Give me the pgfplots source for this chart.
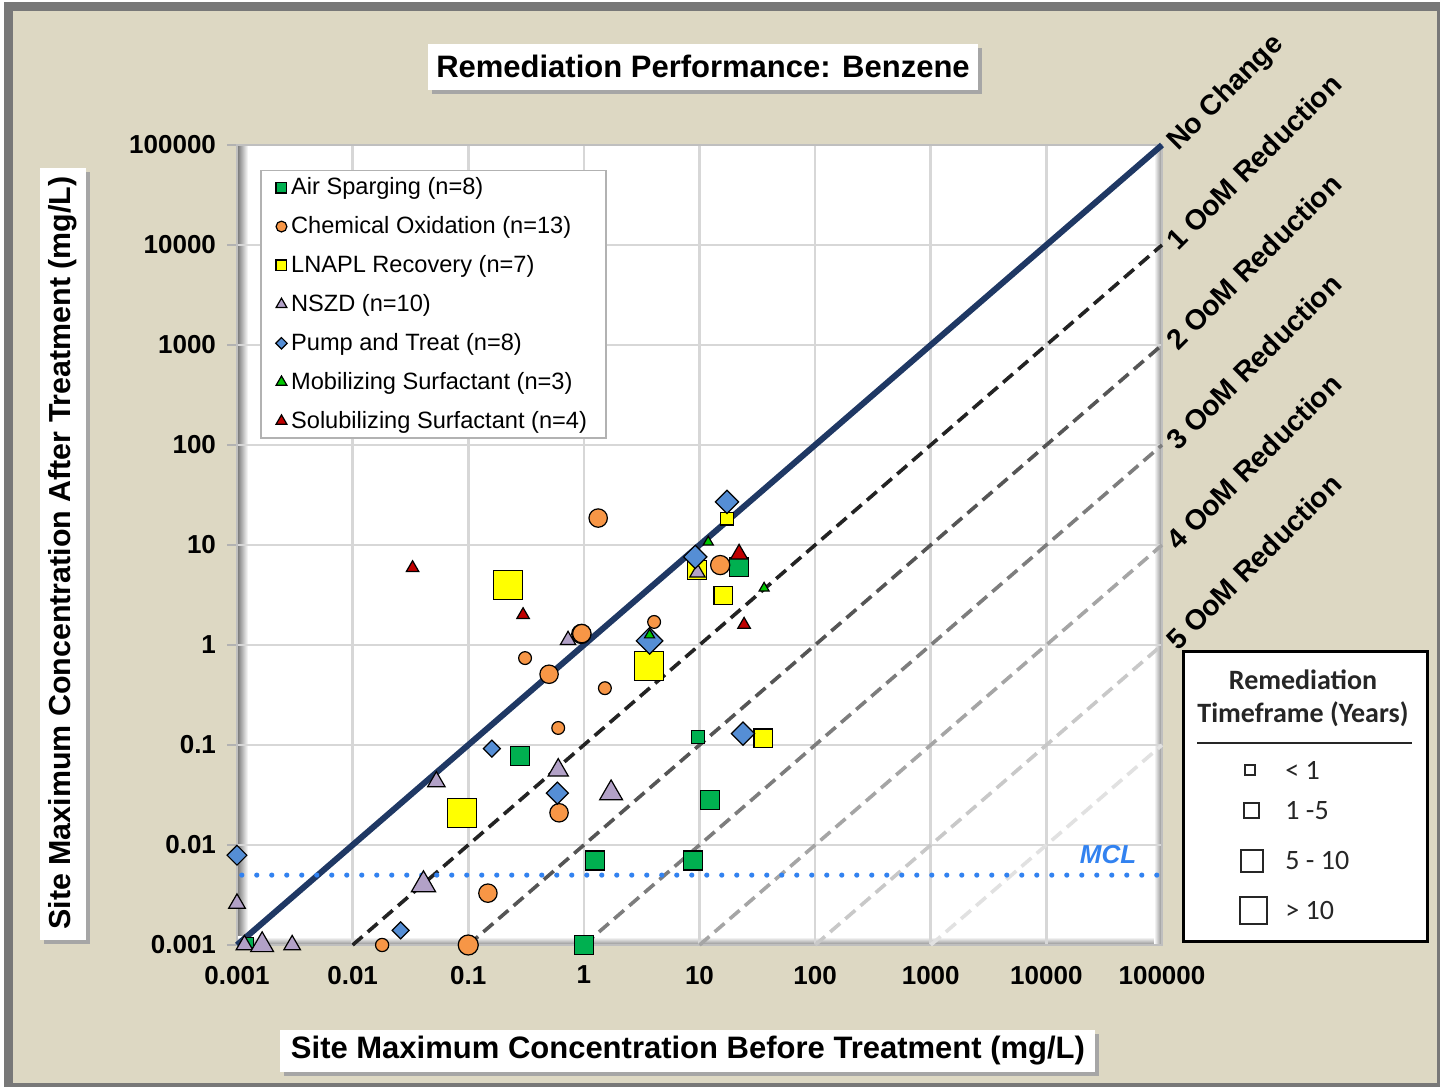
\documentclass[border=0pt]{standalone}
\usepackage{pgfplots}
\pgfplotsset{compat=1.18}
\usepackage{pgfplotstable}
\usepackage{fontspec}
\setmainfont{Liberation Sans}
\newfontfamily\carlito{Carlito}
\definecolor{bgtan}{RGB}{221,216,195}
\definecolor{framegray}{RGB}{120,120,120}
\definecolor{gridgray}{RGB}{215,215,215}
\definecolor{asgreen}{RGB}{0,176,80}
\definecolor{coorange}{RGB}{247,150,70}
\definecolor{lnyellow}{RGB}{255,255,0}
\definecolor{nspurple}{RGB}{178,161,199}
\definecolor{ptblue}{RGB}{85,142,213}
\definecolor{mogreen}{RGB}{0,200,0}
\definecolor{sored}{RGB}{192,0,0}
\definecolor{navyline}{RGB}{31,56,100}
\definecolor{mclblue}{RGB}{50,130,240}

\pgfplotsset{
 sizedpts/.style={only marks, scatter, forget plot, mark options={line width=0.6pt},
   scatter/use mapped color={draw=black, fill=#1},
   visualization depends on={\thisrow{ms}\as\perpointmarksize},
   scatter/@pre marker code/.append style={/tikz/mark size=\perpointmarksize}},
 oom/.style={line width=1.8pt, dash pattern=on 6.5pt off 3.5pt, forget plot},
}

% Air Sparging
\pgfplotstableread{
x y ms
0.28 0.078 4.75
9.7 0.12 3.25
22 6.0 4.75
12.4 0.028 4.75
1.25 0.007 4.75
8.8 0.007 4.75
1.0 0.001 4.75
0.00125 0.00106 2.5
}\tAS
% Chemical Oxidation
\pgfplotstableread{
x y ms
1.33 18.6 4.6
15.1 6.3 4.8
4.05 1.7 3.2
0.95 1.29 4.8
0.31 0.74 3.2
0.5 0.51 4.6
1.52 0.37 3.2
0.6 0.148 3.2
0.61 0.021 4.6
0.148 0.0033 4.6
0.1 0.001 5.0
0.018 0.001 3.3
0.96 1.3 4.6
}\tCO
% LNAPL Recovery
\pgfplotstableread{
x y ms
9.5 5.6 4.8
0.22 4.0 7.3
3.66 0.62 7.3
0.088 0.021 7.3
17.3 18.4 3.2
16 3.1 4.5
35.5 0.117 4.6
}\tLN
% NSZD
\pgfplotstableread{
x y ms
0.73 1.12 4.4
0.6 0.056 5.8
1.72 0.033 6.6
0.053 0.043 5.0
0.041 0.0040 7.0
0.001 0.0026 4.8
0.00116 0.001 4.8
0.00165 0.001 6.6
0.003 0.001 4.8
9.6 5.3 4.4
}\tNS
% Pump and Treat
\pgfplotstableread{
x y ms
17.3 27 4.1
9.2 7.6 4.1
3.7 1.1 4.7
0.16 0.092 3.0
0.59 0.033 3.9
23.8 0.13 4.1
0.001 0.0079 3.5
0.026 0.0014 3.0
}\tPT
% Mobilizing Surfactant
\pgfplotstableread{
x y ms
11.9 10.7 2.9
36.2 3.7 2.9
3.7 1.26 2.9
}\tMO
% Solubilizing Surfactant
\pgfplotstableread{
x y ms
0.033 5.9 3.6
0.298 2.0 3.6
22 8.1 4.9
24.3 1.6 3.6
}\tSO

\begin{document}
\begin{tikzpicture}
\useasboundingbox (0,0) rectangle (720pt,543.5pt);
% background and frame
\fill[white] (0,0) rectangle (720pt,543.5pt);
\fill[framegray] (2pt,0pt) rectangle (720pt,542.5pt);
\fill[bgtan] (6.5pt,2pt) rectangle (718.5pt,538pt);
% plot area
\fill[white] (118.5pt,71pt) rectangle (581pt,471pt);
\shade[left color=black!55, right color=white] (118.5pt,71pt) rectangle (124pt,471pt);
\shade[bottom color=black!45, top color=white] (118.5pt,71pt) rectangle (581pt,75pt);
\shade[left color=white, right color=black!45] (577pt,71pt) rectangle (581pt,471pt);

% title box
\fill[black!35] (216pt,496.5pt) rectangle (491pt,519.5pt);
\fill[white] (214pt,498.5pt) rectangle (489pt,521.5pt);
\node[inner sep=0pt, font=\fontsize{15.5}{18}\selectfont\bfseries] at (351.5pt,510.5pt) {Remediation Performance: Benzene};
% x label box
\fill[black!35] (142pt,5.5pt) rectangle (549.5pt,26.5pt);
\fill[white] (140pt,7.5pt) rectangle (547.5pt,28.5pt);
\node[inner sep=0pt, font=\fontsize{15.5}{18}\selectfont\bfseries] at (344pt,18pt) {Site Maximum Concentration Before Treatment (mg/L)};
% y label box
\fill[black!35] (22pt,71.5pt) rectangle (45pt,457.5pt);
\fill[white] (20pt,73.5pt) rectangle (43pt,459.5pt);
\node[inner sep=0pt, rotate=90, font=\fontsize{15.2}{18}\selectfont\bfseries] at (31.5pt,267pt) {Site Maximum Concentration After Treatment (mg/L)};

\begin{axis}[
  at={(118.5pt,71pt)}, anchor=south west,
  scale only axis, width=462.5pt, height=400pt,
  xmode=log, ymode=log,
  xmin=0.001, xmax=100000, ymin=0.001, ymax=100000,
  xtick={0.001,0.01,0.1,1,10,100,1000,10000,100000},
  ytick={0.001,0.01,0.1,1,10,100,1000,10000,100000},
  xticklabels={0.001,0.01,0.1,1,10,100,1000,10000,100000},
  yticklabels={0.001,0.01,0.1,1,10,100,1000,10000,100000},
  xminorticks=false, yminorticks=false,
  grid=major, major grid style={draw=gridgray, line width=1.3pt},
  axis line style={draw=gray!50, line width=0.8pt},
  xtick style={draw=none}, ytick style={draw=gray!60, line width=1pt},
  tick align=outside, major tick length=5pt, tick pos=left,
  ticklabel style={font=\fontsize{13}{15}\selectfont\bfseries},
  xticklabel style={yshift=-2pt},
  yticklabel style={xshift=-2pt},
  clip=false,
  legend cell align=left,
  legend style={at={(0.0249,0.969)}, anchor=north west,
    draw=gray!60, line width=0.8pt, fill=white,
    font=\fontsize{11.8}{13}\selectfont,
    inner xsep=7.5pt, inner ysep=1.5pt, row sep=5.4pt,
    nodes={inner sep=2pt}, cells={anchor=west}},
  legend image code/.code={\draw[#1] plot coordinates {(0pt,0pt)};},
]
\addlegendimage{only marks, mark=square*, mark size=2.7pt, mark options={fill=asgreen, draw=black, line width=0.6pt}}
\addlegendentry{Air Sparging (n=8)}
\addlegendimage{only marks, mark=*, mark size=2.7pt, mark options={fill=coorange, draw=black, line width=0.6pt}}
\addlegendentry{Chemical Oxidation (n=13)}
\addlegendimage{only marks, mark=square*, mark size=2.7pt, mark options={fill=lnyellow, draw=black, line width=0.6pt}}
\addlegendentry{LNAPL Recovery (n=7)}
\addlegendimage{only marks, mark=triangle*, mark size=3.1pt, mark options={fill=nspurple, draw=black, line width=0.6pt}}
\addlegendentry{NSZD (n=10)}
\addlegendimage{only marks, mark=square*, mark size=2pt, mark options={fill=ptblue, draw=black, line width=0.6pt, rotate=45}}
\addlegendentry{Pump and Treat (n=8)}
\addlegendimage{only marks, mark=triangle*, mark size=3.1pt, mark options={fill=mogreen, draw=black, line width=0.6pt}}
\addlegendentry{Mobilizing Surfactant (n=3)}
\addlegendimage{only marks, mark=triangle*, mark size=3.1pt, mark options={fill=sored, draw=black, line width=0.6pt}}
\addlegendentry{Solubilizing Surfactant (n=4)}

% reference lines
\addplot[oom, draw={rgb,255:red,225;green,225;blue,225}] coordinates {(1000,0.001) (100000,0.1)};
\addplot[oom, draw={rgb,255:red,200;green,200;blue,200}] coordinates {(100,0.001) (100000,1)};
\addplot[oom, draw={rgb,255:red,165;green,165;blue,165}] coordinates {(10,0.001) (100000,10)};
\addplot[oom, draw={rgb,255:red,125;green,125;blue,125}] coordinates {(1,0.001) (100000,100)};
\addplot[oom, draw={rgb,255:red,85;green,85;blue,85}] coordinates {(0.1,0.001) (100000,1000)};
\addplot[oom, draw={rgb,255:red,35;green,35;blue,35}] coordinates {(0.01,0.001) (100000,10000)};
\addplot[navyline, line width=3pt, forget plot] coordinates {(0.001,0.001) (100000,100000)};
\addplot[mclblue, line width=2.6pt, line cap=round, dash pattern=on 0pt off 7.5pt, forget plot] coordinates {(0.0011,0.005) (100000,0.005)};

% data
\addplot[sizedpts=asgreen, mark=square*] table[x=x,y=y] {\tAS};
\addplot[sizedpts=coorange, mark=*] table[x=x,y=y] {\tCO};
\addplot[sizedpts=lnyellow, mark=square*] table[x=x,y=y] {\tLN};
\addplot[sizedpts=nspurple, mark=triangle*] table[x=x,y=y] {\tNS};
\addplot[sizedpts=ptblue, mark=square*, mark options={line width=0.6pt, rotate=45}] table[x=x,y=y] {\tPT};
\addplot[sizedpts=mogreen, mark=triangle*] table[x=x,y=y] {\tMO};
\addplot[sizedpts=sored, mark=triangle*] table[x=x,y=y] {\tSO};
\end{axis}

% diagonal labels
\begin{scope}[every node/.style={rotate=45, anchor=base west, inner sep=0pt, font=\fontsize{14.2}{16}\selectfont\bfseries}]
\node at (589pt,467.5pt) {No Change};
\node at (589pt,417.5pt) {1 OoM Reduction};
\node at (589pt,367.5pt) {2 OoM Reduction};
\node at (589pt,317.5pt) {3 OoM Reduction};
\node at (589pt,267.5pt) {4 OoM Reduction};
\node at (589pt,217.5pt) {5 OoM Reduction};
\end{scope}

% MCL label
\node[inner sep=0pt, text=mclblue, font=\fontsize{13}{15}\selectfont\bfseries\itshape] at (554pt,116pt) {MCL};

% timeframe legend
\draw[line width=1.5pt, fill=white] (591.5pt,72.5pt) rectangle (713.5pt,217.5pt);
\node[inner sep=0pt, font=\carlito\fontsize{14}{16}\selectfont\bfseries, text=black!85] at (651.5pt,203.5pt) {Remediation};
\node[inner sep=0pt, font=\carlito\fontsize{14}{16}\selectfont\bfseries, text=black!85] at (651.5pt,186.5pt) {Timeframe (Years)};
\draw[line width=1pt, black!85] (598.5pt,172pt) -- (706pt,172pt);
\begin{scope}[line width=1pt, draw=black!85]
\draw (622.5pt,156pt) rectangle (627.5pt,161pt);
\draw (621.75pt,134.25pt) rectangle (629.25pt,141.75pt);
\draw (620.5pt,107.5pt) rectangle (631.5pt,118.5pt);
\draw (619.75pt,81.25pt) rectangle (633.25pt,94.75pt);
\end{scope}
\begin{scope}[every node/.style={anchor=west, inner sep=0pt, font=\carlito\fontsize{14}{16}\selectfont, text=black!85}]
\node at (642.5pt,158.5pt) {< 1};
\node at (642.5pt,138pt) {1 -5};
\node at (642.5pt,113pt) {5 - 10};
\node at (642.5pt,88pt) {> 10};
\end{scope}
\end{tikzpicture}
\end{document}
